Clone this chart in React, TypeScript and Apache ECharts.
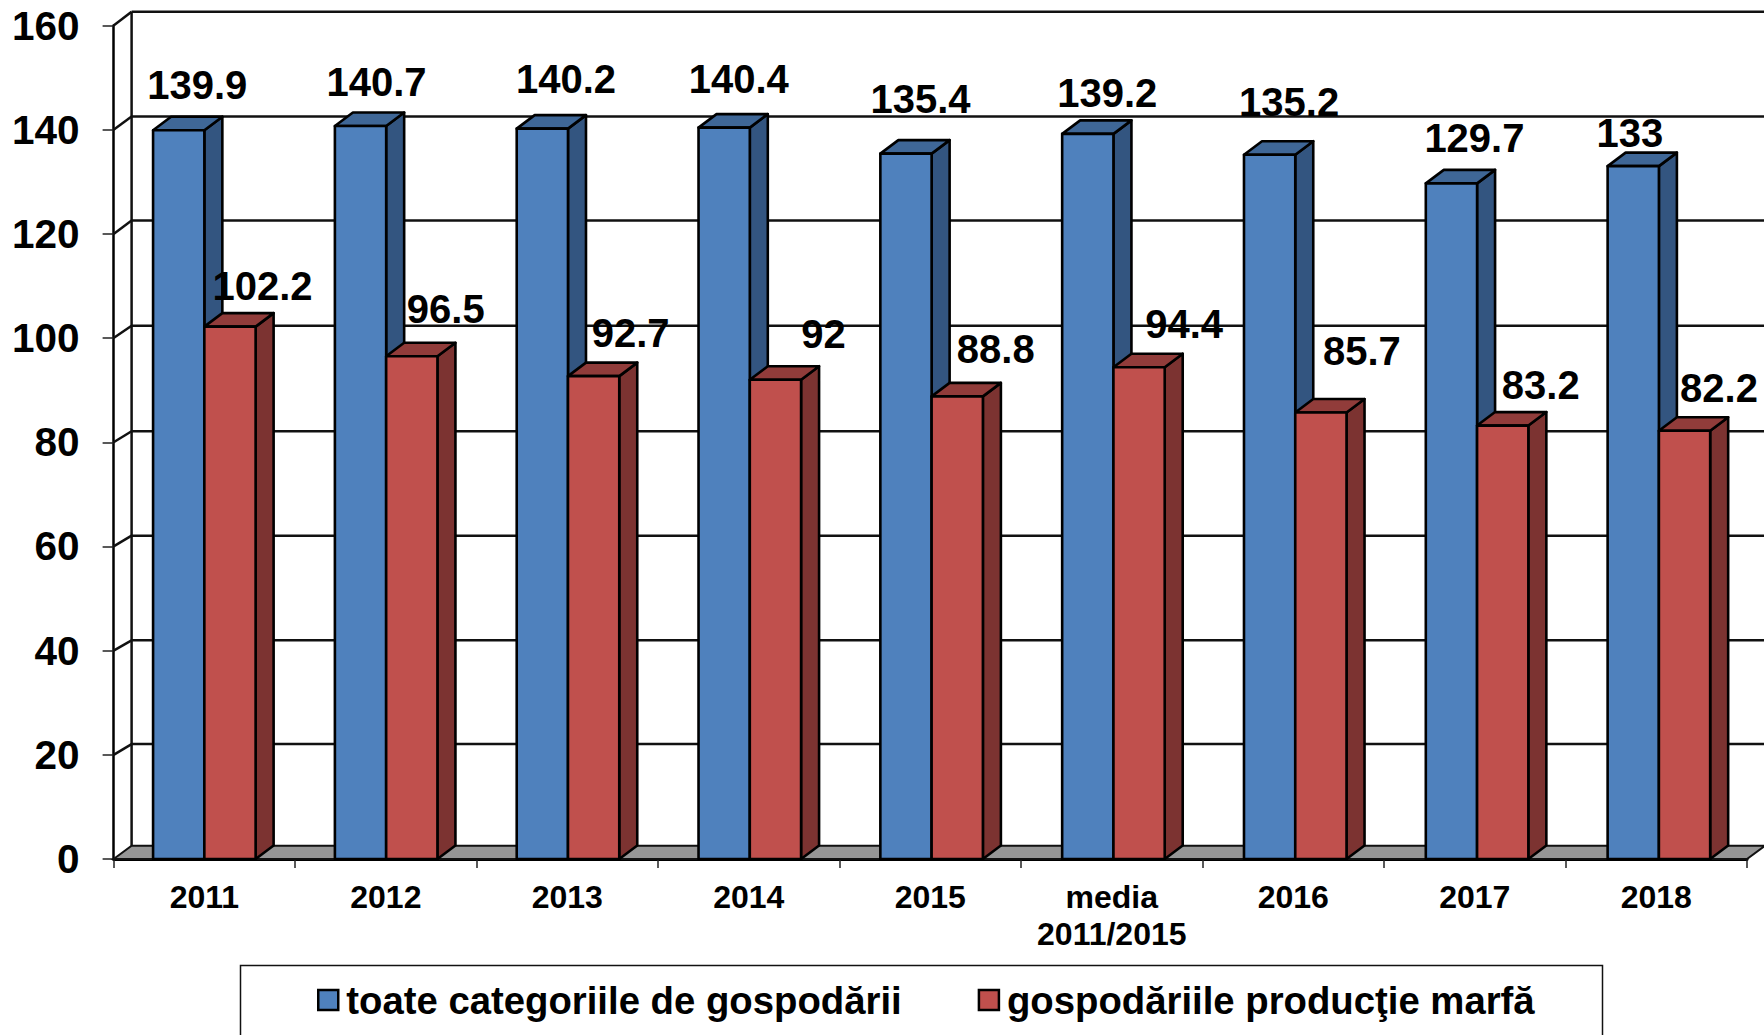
import React, { useEffect, useRef } from "react";
import * as echarts from "echarts";

const categories = ["2011", "2012", "2013", "2014", "2015", "media\n2011/2015", "2016", "2017", "2018"];
const allHouseholds = [139.9, 140.7, 140.2, 140.4, 135.4, 139.2, 135.2, 129.7, 133];
const commercialHouseholds = [102.2, 96.5, 92.7, 92, 88.8, 94.4, 85.7, 83.2, 82.2];
const yTicks = [0, 20, 40, 60, 80, 100, 120, 140, 160];
const seriesNames = ["toate categoriile de gospodării", "gospodăriile producţie marfă"];

const wallDepthByTick = [-13.3, -10.7, -10.3, -10.8, -11, -12.3, -13.5, -13.3, -13.8];
const blueLabelOffsets = [[18.5, -44.8], [16, -44], [23.6, -49.7], [14.6, -48.7], [14.5, -54.7], [19.5, -40.5], [19.5, -52.3], [23, -45], [-3.4, -33.5]];
const redLabelOffsets = [[32.5, -40.9], [34, -46.9], [37, -43], [48, -45.8], [38.5, -47.6], [45, -43.3], [41, -61.6], [38, -40.9], [34.5, -42.8]];

const FONT = '"Liberation Sans", Arial, sans-serif';
const DX = 18;
const DY = -13.5;
const BAR_RATIO = 0.2825;
const BAR_DRIFT = 0.33;

function makeBarRender(side: "left" | "right", colors: { front: string; top: string; side: string }, offsets: number[][]) {
  return (params: any, api: any) => {
    const top = api.coord([api.value(0), api.value(1)]);
    const base = api.coord([api.value(0), 0]);
    const w = api.size([1, 0])[0] * BAR_RATIO;
    const cx = top[0] + params.dataIndex * BAR_DRIFT;
    const x0 = side === "left" ? cx - w : cx;
    const x1 = x0 + w;
    const y0 = top[1];
    const y1 = base[1];
    const stroke = { stroke: "#000", lineWidth: 2.6, lineJoin: "round" };
    const off = offsets[params.dataIndex];
    return {
      type: "group",
      children: [
        { type: "polygon", shape: { points: [[x1, y0], [x1 + DX, y0 + DY], [x1 + DX, y1 + DY], [x1, y1]] }, style: { fill: colors.side, ...stroke } },
        { type: "polygon", shape: { points: [[x0, y0], [x0 + DX, y0 + DY], [x1 + DX, y0 + DY], [x1, y0]] }, style: { fill: colors.top, ...stroke } },
        { type: "rect", shape: { x: x0, y: y0, width: w, height: y1 - y0 }, style: { fill: colors.front, ...stroke } },
        {
          type: "text",
          z2: 50,
          style: {
            text: String(api.value(1)),
            x: (x0 + x1) / 2 + off[0],
            y: y0 + off[1],
            fill: "#000",
            font: `bold 40px ${FONT}`,
            align: "center",
            verticalAlign: "middle",
          },
        },
      ],
    };
  };
}

function renderWall(params: any, api: any) {
  const cs = params.coordSys;
  const y = api.coord([0, api.value(1)])[1];
  const d = wallDepthByTick[params.dataIndex];
  const left = cs.x;
  const right = cs.x + cs.width;
  const line = { stroke: "#111", lineWidth: 2.5 };
  const children: any[] = [];
  if (api.value(1) === 0) {
    children.push({
      type: "polygon",
      shape: { points: [[left, y], [left + DX, y + d], [right + DX, y + d], [right, y]] },
      style: { fill: "#969696", stroke: "#111", lineWidth: 2 },
    });
    children.push({
      type: "line",
      shape: { x1: left + DX, y1: y + d, x2: left + DX, y2: cs.y + wallDepthByTick[wallDepthByTick.length - 1] },
      style: line,
    });
  } else {
    children.push({ type: "line", shape: { x1: left, y1: y, x2: left + DX, y2: y + d }, style: line });
    children.push({ type: "line", shape: { x1: left + DX, y1: y + d, x2: right + DX, y2: y + d }, style: line });
  }
  return { type: "group", children };
}

export default function App() {
  const ref = useRef<HTMLDivElement>(null);
  useEffect(() => {
    document.body.style.margin = "0";
    const chart = echarts.init(ref.current!, undefined, { renderer: "svg" });
    chart.setOption({
      animation: false,
      backgroundColor: "#fff",
      grid: { left: 113.6, right: 17, top: 25.5, bottom: 176, containLabel: false },
      xAxis: {
        type: "category",
        data: categories,
        axisLine: { lineStyle: { color: "#000", width: 3 } },
        axisTick: { show: true, length: 9, lineStyle: { color: "#222", width: 1.5 } },
        axisLabel: { color: "#000", fontFamily: FONT, fontWeight: "bold", fontSize: 32, margin: 19, lineHeight: 37, interval: 0 },
        splitLine: { show: false },
      },
      yAxis: {
        type: "value",
        min: 0,
        max: 160,
        interval: 20,
        axisLine: { show: true, lineStyle: { color: "#000", width: 2.5 } },
        axisTick: { show: true, length: 11, lineStyle: { color: "#222", width: 1.5 } },
        axisLabel: { color: "#000", fontFamily: FONT, fontWeight: "bold", fontSize: 40.5, margin: 34 },
        splitLine: { show: false },
      },
      legend: {
        left: 317,
        top: 981,
        itemWidth: 20,
        itemHeight: 20,
        itemGap: 76,
        padding: 0,
        selectedMode: false,
        textStyle: { color: "#000", fontFamily: FONT, fontWeight: "bold", fontSize: 38.3, padding: [0, 0, 0, 3] },
        data: [
          { name: seriesNames[0], icon: "rect", itemStyle: { color: "#4F81BD", borderColor: "#000", borderWidth: 2.5 } },
          { name: seriesNames[1], icon: "rect", itemStyle: { color: "#C0504D", borderColor: "#000", borderWidth: 2.5 } },
        ],
      },
      graphic: [
        { type: "rect", z: -1, shape: { x: 240.5, y: 965.5, width: 1362, height: 90 }, style: { fill: "#fff", stroke: "#111", lineWidth: 1.5 } },
      ],
      series: [
        {
          type: "custom",
          name: "wall",
          z: 1,
          clip: false,
          silent: true,
          renderItem: renderWall,
          encode: { x: 0, y: 1 },
          data: yTicks.map((t) => [0, t]),
        },
        {
          type: "custom",
          name: seriesNames[0],
          z: 3,
          clip: false,
          itemStyle: { color: "#4F81BD" },
          renderItem: makeBarRender("left", { front: "#4F81BD", top: "#3F6797", side: "#335580" }, blueLabelOffsets),
          encode: { x: 0, y: 1 },
          data: allHouseholds.map((v, i) => [i, v]),
        },
        {
          type: "custom",
          name: seriesNames[1],
          z: 4,
          clip: false,
          itemStyle: { color: "#C0504D" },
          renderItem: makeBarRender("right", { front: "#C0504D", top: "#913C3A", side: "#7C3331" }, redLabelOffsets),
          encode: { x: 0, y: 1 },
          data: commercialHouseholds.map((v, i) => [i, v]),
        },
      ],
    });
    return () => chart.dispose();
  }, []);
  return <div ref={ref} style={{ position: "absolute", left: 0, top: 0, width: 1764, height: 1035, overflow: "hidden" }} />;
}
